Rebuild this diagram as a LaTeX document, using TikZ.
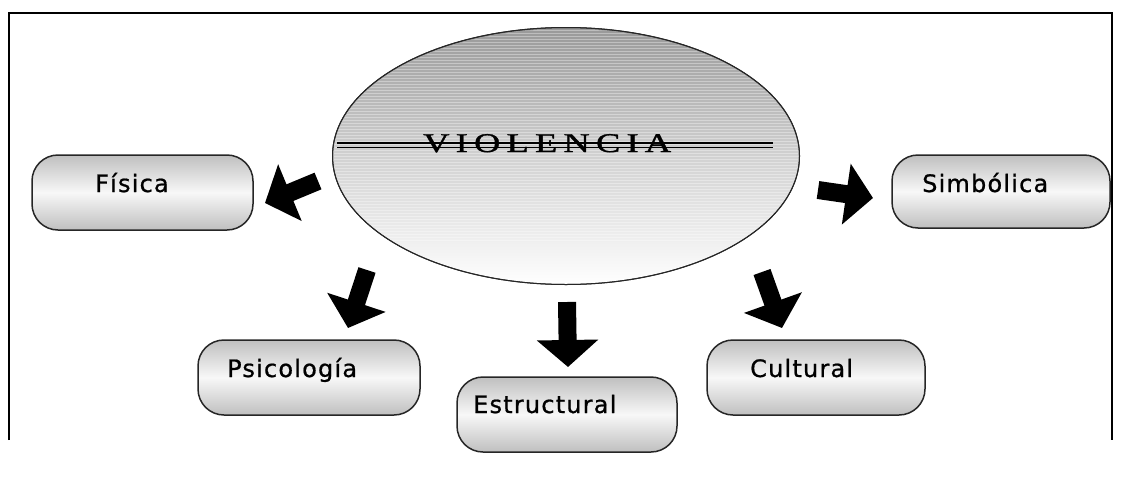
\documentclass[tikz,border=0pt]{standalone}
\usepackage{fontspec}
\setmainfont{Liberation Serif}
\newfontfamily\boxfont[LetterSpace=5,FakeBold=0.8]{DejaVu Sans}
\newfontfamily\titlefont[LetterSpace=17,FakeBold=1.2]{Liberation Serif}
\usetikzlibrary{arrows.meta,shapes.geometric}
\begin{document}
\begin{tikzpicture}[x=1pt,y=-1pt,
  box/.style={draw=black!85, line width=1.5pt, rounded corners=26pt, rectangle,
    top color=black!25, bottom color=black!25, middle color=black!3, inner sep=0pt},
  lbl/.style={anchor=base west, font=\boxfont\fontsize{24}{28}\selectfont, inner sep=0pt},
  blk/.style={line width=18pt, -{Triangle[width=60pt,length=27pt]}},
  frame/.style={line width=1.5pt, draw=black}
]
\useasboundingbox (0,0) rectangle (1121,498);
\draw[frame] (9,440) -- (9,13) -- (1112,13) -- (1112,440);

% central ellipse
\node[ellipse, draw=black!85, line width=1pt, minimum width=467pt, minimum height=257pt,
  top color=black!40, bottom color=white, middle color=black!18] (vio) at (566,156) {};
\begin{scope}
  \clip (566,156) ellipse [x radius=232pt, y radius=127pt];
  \foreach \yy in {30,33,...,240} \draw[white, opacity=0.35, line width=0.7pt] (330,\yy) -- (800,\yy);
\end{scope}
\draw[draw=black!85, line width=1pt] (566,156) ellipse [x radius=233.5pt, y radius=128.5pt];
\coordinate (sA) at (337,143);
\coordinate (sB) at (773,143);
\coordinate (sC) at (337,147.5);
\coordinate (sD) at (773,147.5);
\node[anchor=base west, inner sep=0pt, font=\titlefont\fontsize{27}{30}\selectfont] (viot) at (423,152) {\scalebox{1.35}[1]{VIOLENCIA}};
\draw[line width=1.8pt] (sA) -- (sB);
\draw[line width=1.8pt] (sC) -- (sD);

% boxes
\node[box, minimum width=221pt, minimum height=75pt] (fis) at (142.5,192.5) {};
\node[box, minimum width=218pt, minimum height=73pt] (sim) at (1001,191.5) {};
\node[box, minimum width=222pt, minimum height=75pt] (psi) at (309,377.5) {};
\node[box, minimum width=220pt, minimum height=75pt] (est) at (567,414.5) {};
\node[box, minimum width=218pt, minimum height=75pt] (cul) at (816,377.5) {};

\node[lbl] (fist) at (95,192) {Física};
\node[lbl] (simt) at (922,192) {Simbólica};
\node[lbl] (psit) at (227,377) {Psicología};
\node[lbl] (estt) at (473,413) {Estructural};
\node[lbl] (cult) at (750,377) {Cultural};

% block arrows
\coordinate (a1s) at (318,181); \coordinate (a1e) at (265,203);
\coordinate (a2s) at (818,190); \coordinate (a2e) at (873,198);
\coordinate (a3s) at (367,270); \coordinate (a3e) at (348,328);
\coordinate (a4s) at (567,302); \coordinate (a4e) at (568,367);
\coordinate (a5s) at (762,272); \coordinate (a5e) at (782,328);
\draw[blk] (a1s) -- (a1e);
\draw[blk] (a2s) -- (a2e);
\draw[blk] (a3s) -- (a3e);
\draw[blk] (a4s) -- (a4e);
\draw[blk] (a5s) -- (a5e);
\end{tikzpicture}
\end{document}
